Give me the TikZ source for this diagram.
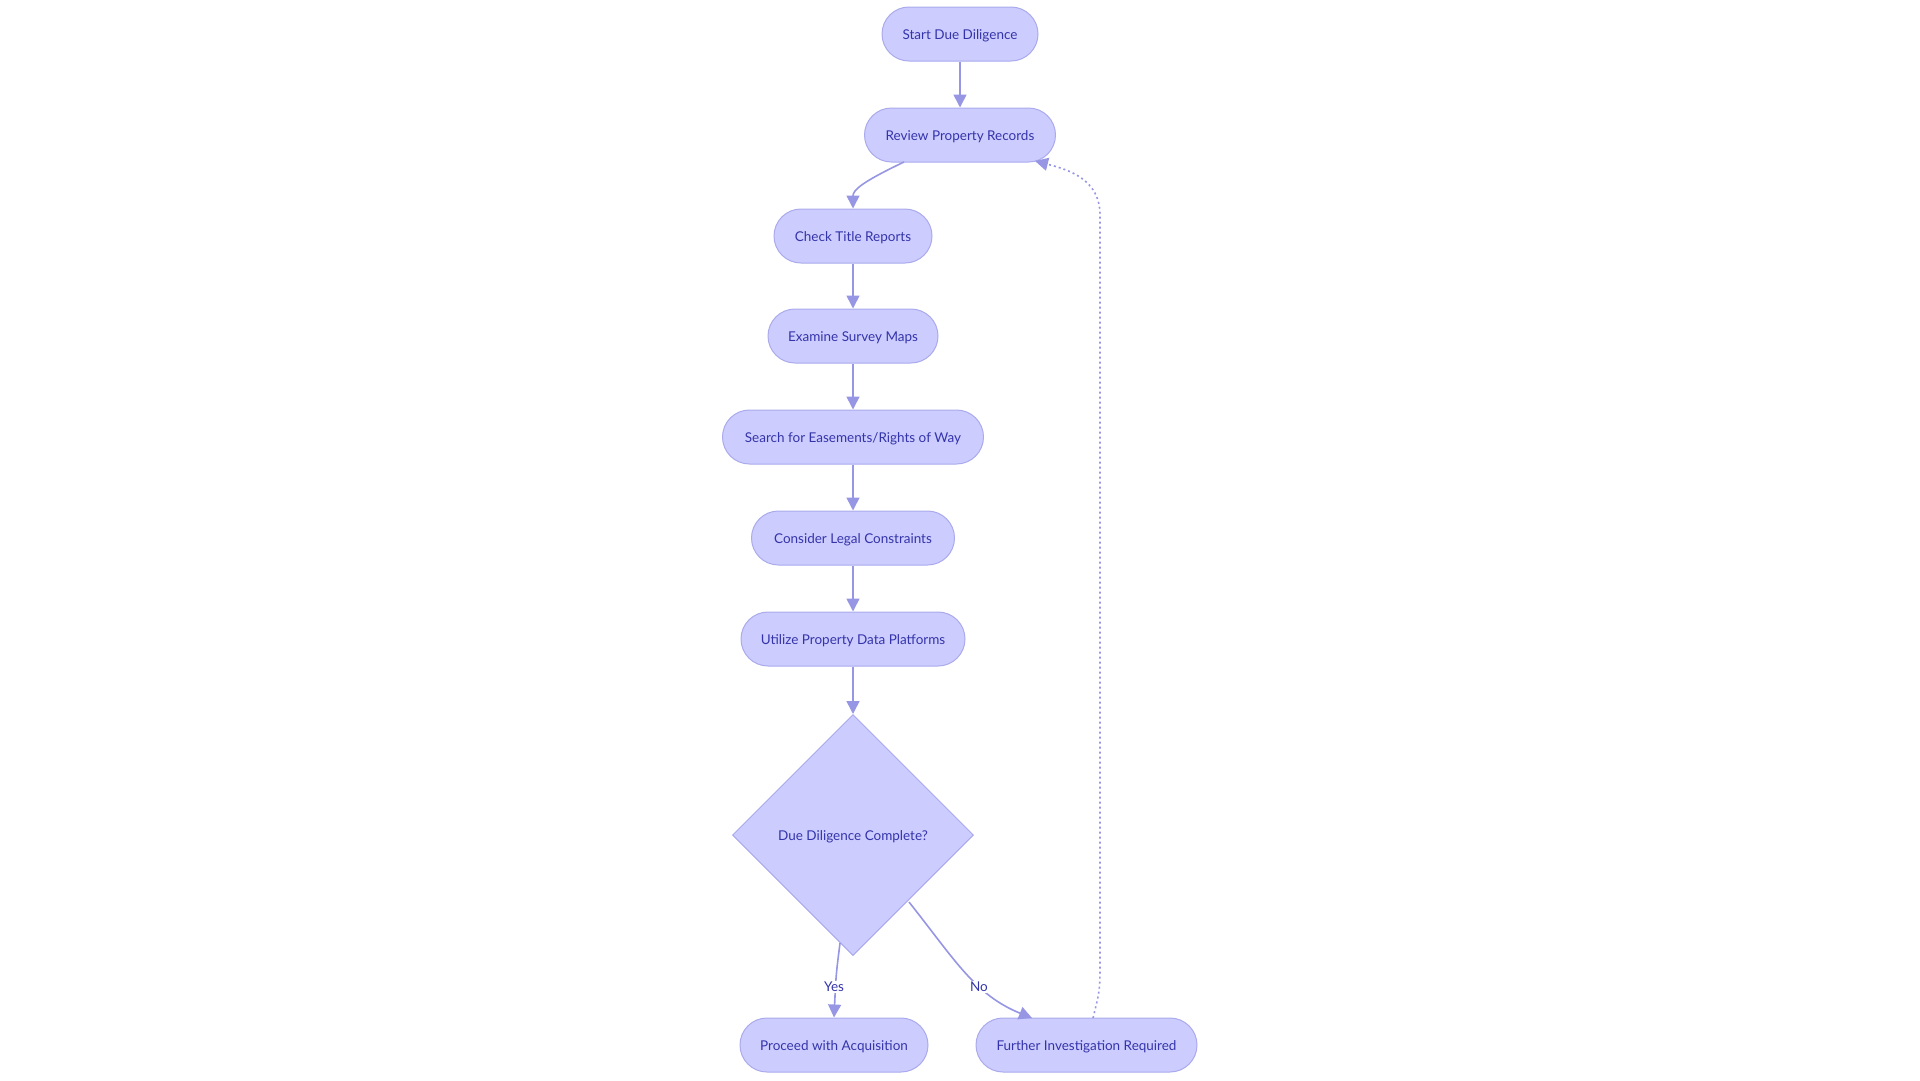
\documentclass[tikz,border=0pt]{standalone}
\usepackage{fontspec}
\setmainfont{Lato}
\usetikzlibrary{shapes.geometric,arrows.meta,calc}
\definecolor{nfill}{RGB}{204,204,255}
\definecolor{ndraw}{RGB}{170,170,236}
\definecolor{ntext}{RGB}{52,52,170}
\definecolor{edgec}{RGB}{150,150,228}
\begin{document}
\begin{tikzpicture}[x=1pt,y=-1pt,
  pill/.style={draw=ndraw,fill=nfill,line width=1pt,rounded corners=27pt,minimum height=54pt,text=ntext,font=\fontsize{13.5}{16}\selectfont,inner sep=0pt,text height=12pt,text depth=1pt},
  dec/.style={draw=ndraw,fill=nfill,line width=1pt,diamond,aspect=1,minimum width=241pt,minimum height=241pt,text=ntext,font=\fontsize{13.5}{16}\selectfont,inner sep=0pt,text height=12pt,text depth=1pt},
  edge/.style={draw=edgec,line width=1.6pt,-{Triangle[length=13pt,width=13pt]}},
  dotedge/.style={edge,dash pattern=on 2pt off 3pt},
  elabel/.style={fill=white,text=ntext,font=\fontsize{13.5}{16}\selectfont,inner sep=1pt}]
\useasboundingbox (0,0) rectangle (1920,1080);
\node[pill,minimum width=156pt] (start) at (960,34) {Start Due Diligence};
\node[pill,minimum width=191pt] (review) at (960,135) {Review Property Records};
\node[pill,minimum width=158pt] (check) at (853,236) {Check Title Reports};
\node[pill,minimum width=170pt] (survey) at (853,336) {Examine Survey Maps};
\node[pill,minimum width=261pt] (search) at (853,437) {Search for Easements/Rights of Way};
\node[pill,minimum width=203pt] (legal) at (853,538) {Consider Legal Constraints};
\node[pill,minimum width=224pt] (util) at (853,639) {Utilize Property Data Platforms};
\node[dec] (done) at (853,835) {Due Diligence Complete?};
\node[pill,minimum width=188pt] (proceed) at (834,1045) {Proceed with Acquisition};
\node[pill,minimum width=221pt] (further) at (1086.5,1045) {Further Investigation Required};
\coordinate (rvout) at (904,162);
\coordinate (rvin) at (1035,161);
\coordinate (dyes) at (840,943);
\coordinate (dno) at (909,902);
\coordinate (fin) at (1032,1018);
\coordinate (fout) at (1093,1018);
\draw[edge] (start) -- (review);
\draw[edge] (rvout) .. controls (862,182) and (853,190) .. (check.north);
\draw[edge] (check) -- (survey);
\draw[edge] (survey) -- (search);
\draw[edge] (search) -- (legal);
\draw[edge] (legal) -- (util);
\draw[edge] (util.south) -- (done.north);
\draw[edge] (dyes) .. controls (836,975) .. (proceed.north);
\node[elabel] (yeslab) at (834,987) {Yes};
\draw[edge] (dno) .. controls (955,960) and (975,995) .. (fin);
\node[elabel] (nolab) at (979,987) {No};
\draw[dotedge] (fout) .. controls (1100,990) .. (1100,960) -- (1100,215) .. controls (1100,180) and (1070,170) .. (rvin);
\end{tikzpicture}
\end{document}
